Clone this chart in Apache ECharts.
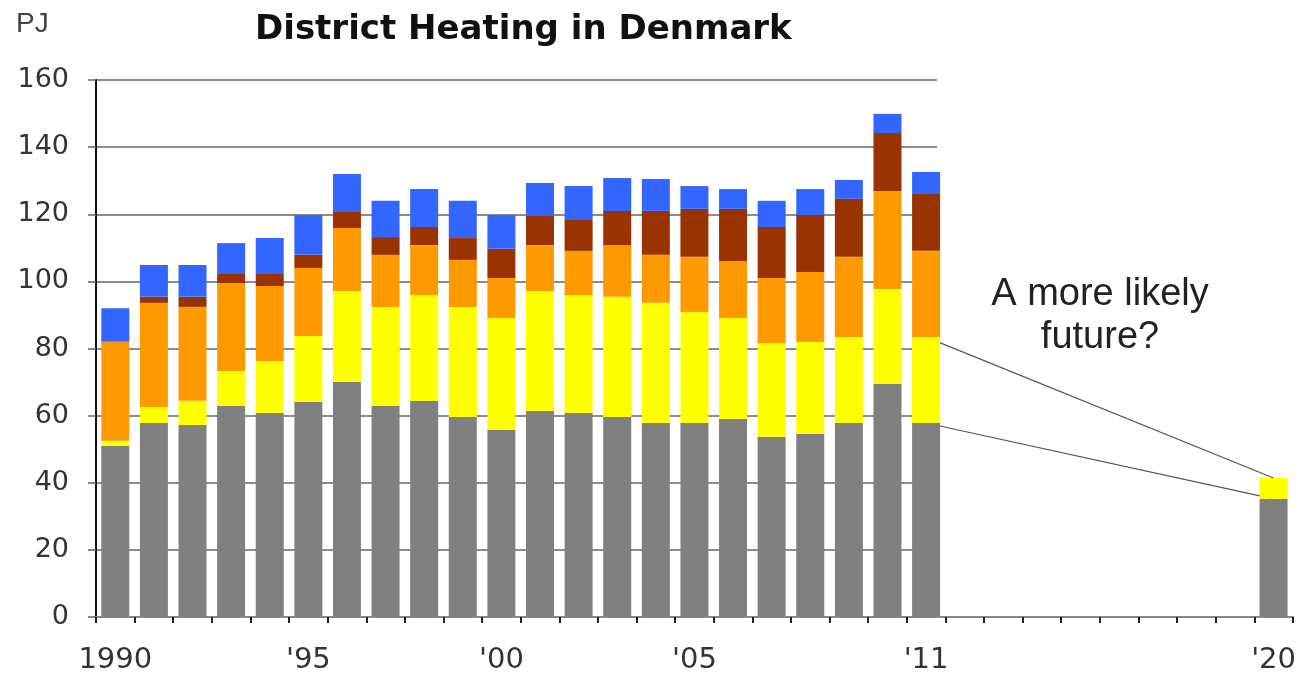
<!DOCTYPE html>
<html>
<head>
<meta charset="utf-8">
<script src="https://cdn.jsdelivr.net/npm/echarts@6/dist/echarts.min.js"></script>
<style>
  html, body { margin: 0; padding: 0; background: #fff; }
  #main { width: 1299px; height: 675px; }
</style>
</head>
<body>
<div id="main"></div>
<script>
// categories, one slot per year (2012-2019 stay empty)
const years = ['1990', '1991', '1992', '1993', '1994', '1995', '1996', '1997', '1998', '1999',
  '2000', '2001', '2002', '2003', '2004', '2005', '2006', '2007', '2008', '2009',
  '2010', '2011', '2012', '2013', '2014', '2015', '2016', '2017', '2018', '2019', '2020'];
const labelYears = ['1990', '1995', '2000', '2005', '2011', '2020'];
const labelTexts = ['1990', "'95", "'00", "'05", "'11", "'20"];

// PJ per layer, 1990-2011 (bottom to top)
const grey = [51, 57.8, 57.2, 62.9, 60.8, 64.1, 70, 62.9, 64.4, 59.6, 55.7, 61.4, 60.8, 59.6, 57.8, 57.8, 59, 53.6, 54.5, 57.8, 69.4, 57.8];
const yellow = [1.5, 4.8, 7.2, 10.4, 15.5, 19.6, 27.1, 29.5, 31.5, 32.8, 33.4, 35.7, 35.1, 35.8, 35.8, 33.1, 30.1, 28, 27.4, 25.6, 28.3, 25.6];
const orange = [29.5, 31, 28, 26.2, 22.3, 20.3, 18.8, 15.5, 14.9, 14, 11.9, 13.7, 13.2, 15.4, 14.3, 16.4, 17, 19.4, 20.9, 23.9, 29.2, 25.7];
const brown = [0, 1.8, 3, 2.7, 3.6, 3.9, 4.8, 5.3, 5.4, 6.5, 8.7, 8.7, 9.2, 10.2, 13.1, 14.3, 15.5, 15.2, 17, 17.3, 17.3, 16.9];
const blue = [10, 9.5, 9.5, 9.2, 10.7, 11.9, 11.3, 10.8, 11.3, 11.1, 10.1, 9.8, 10.1, 9.8, 9.5, 6.8, 5.9, 7.8, 7.7, 5.6, 5.7, 6.6];

// the 2020 bar
const grey2020 = 35.2;
const yellow2020 = 6.2;

const layerColors = ['#808080', '#ffff00', '#ff9900', '#993300', '#3366ff'];

function fullRow(hist, future) {
  const row = hist.slice();
  while (row.length < years.length - 1) row.push('-');
  row.push(future == null ? '-' : future);
  return row;
}

// thin lines from the 2011 bar to the 2020 bar
function linkRow(v2011, v2020) {
  const row = years.map(() => '-');
  row[years.indexOf('2011')] = v2011;
  row[years.indexOf('2020')] = v2020;
  return row;
}
const last = grey.length - 1;
const linkLow = linkRow(grey[last], grey2020);
const linkHigh = linkRow(grey[last] + yellow[last], grey2020 + yellow2020);

const layers = [
  fullRow(grey, grey2020),
  fullRow(yellow, yellow2020),
  fullRow(orange, null),
  fullRow(brown, null),
  fullRow(blue, null)
];

const chart = echarts.init(document.getElementById('main'));

const barSeries = layers.map((d, i) => ({
  type: 'bar',
  stack: 'heat',
  data: d,
  barWidth: 28,
  itemStyle: { color: layerColors[i] },
  z: 3,
  xAxisIndex: 0,
  yAxisIndex: 0
}));

const linkSeries = [linkHigh, linkLow].map((d) => ({
  type: 'line',
  data: d,
  connectNulls: true,
  symbol: 'none',
  lineStyle: { color: '#555', width: 1.2 },
  z: 1,
  xAxisIndex: 0,
  yAxisIndex: 0
}));

chart.setOption({
  animation: false,
  backgroundColor: '#fff',
  title: [
    {
      text: 'District Heating in Denmark',
      left: 255,
      top: 13,
      padding: 0,
      textStyle: { fontFamily: 'DejaVu Sans', fontWeight: 'bold', fontSize: 34, color: '#111' }
    },
    {
      text: 'PJ',
      left: 16,
      top: 10,
      padding: 0,
      textStyle: { fontFamily: 'Liberation Sans', fontWeight: 'normal', fontSize: 28, color: '#444' }
    }
  ],
  graphic: [
    {
      type: 'text',
      x: 1100,
      y: 273,
      style: {
        text: 'A more likely\nfuture?',
        font: '38px "Liberation Sans"',
        fill: '#222',
        align: 'center',
        lineHeight: 43
      }
    }
  ],
  grid: [
    { left: 96, right: 6, top: 80, bottom: 58 },
    { left: 96, width: 841, top: 80, bottom: 58 }
  ],
  xAxis: [
    {
      type: 'category',
      gridIndex: 0,
      data: years,
      axisLine: { lineStyle: { color: '#888', width: 2 } },
      axisTick: { show: true, interval: 0, length: 6, lineStyle: { color: '#222', width: 2 } },
      axisLabel: {
        interval: (idx, val) => labelYears.indexOf(val) >= 0,
        formatter: (val) => labelTexts[labelYears.indexOf(val)],
        fontFamily: 'DejaVu Sans',
        fontSize: 29,
        color: '#333',
        margin: 29
      }
    },
    { type: 'value', gridIndex: 1, min: 0, max: 1, show: false }
  ],
  yAxis: [
    {
      type: 'value',
      gridIndex: 0,
      min: 0,
      max: 160,
      interval: 20,
      axisLine: { show: true, lineStyle: { color: '#111', width: 2 } },
      axisTick: { show: true, length: 8, lineStyle: { color: '#666', width: 1.5 } },
      splitLine: { show: false },
      axisLabel: { fontFamily: 'DejaVu Sans', fontSize: 27, color: '#333', margin: 27 }
    },
    {
      type: 'value',
      gridIndex: 1,
      min: 0,
      max: 160,
      interval: 20,
      axisLine: { show: false },
      axisTick: { show: false },
      axisLabel: { show: false },
      splitLine: { show: true, lineStyle: { color: '#666', width: 1.5 } }
    }
  ],
  series: barSeries.concat(linkSeries)
});
</script>
</body>
</html>
